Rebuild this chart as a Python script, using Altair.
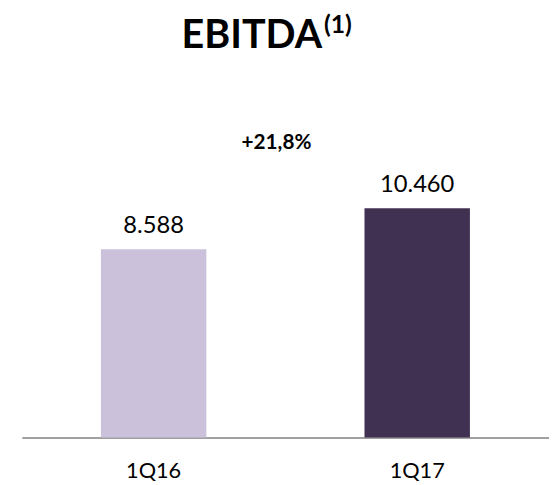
import altair as alt
import pandas as pd

quarters = ["1Q16", "1Q17"]
values = [8588, 10460]
value_labels = ["8.588", "10.460"]
colors = ["#CBC1DB", "#403152"]
title_main = "EBITDA"
title_sup = "(1)"
growth_label = "+21,8%"

FONT = "Lato"

df = pd.DataFrame({"q": quarters, "v": values, "lab": value_labels})

x = alt.X("q:N", sort=quarters, title=None,
          scale=alt.Scale(paddingInner=0.6, paddingOuter=0.3),
          axis=alt.Axis(labelAngle=0, ticks=False, tickSize=0, labelPadding=41,
                        labelBaseline="alphabetic", labelFontSize=22, labelFont=FONT,
                        labelColor="#000000", domainColor="#A0A0A0", domainWidth=2,
                        grid=False))
y = alt.Y("v:Q", title=None, scale=alt.Scale(domain=[0, 14000], nice=False), axis=None)

bars = alt.Chart(df).mark_bar().encode(
    x=x, y=y,
    color=alt.Color("q:N", scale=alt.Scale(domain=quarters, range=colors), legend=None),
)

labels = alt.Chart(df).mark_text(dy=-16, baseline="alphabetic", fontSize=24, font=FONT,
                                 color="#000000").encode(x=x, y=y, text="lab:N")

ann = pd.DataFrame({"t": [growth_label]})
growth = alt.Chart(ann).mark_text(fontSize=21, fontWeight="bold", font=FONT, baseline="alphabetic",
                                  align="center", color="#000000").encode(
    x=alt.value(258), y=alt.value(19), text="t:N")

tdf = pd.DataFrame({"t": [title_main]})
title1 = alt.Chart(tdf).mark_text(fontSize=40, fontWeight="bold", font=FONT, baseline="alphabetic",
                                  align="center", color="#000000").encode(
    x=alt.value(233), y=alt.value(-84), text="t:N")
sdf = pd.DataFrame({"t": [title_sup]})
title2 = alt.Chart(sdf).mark_text(fontSize=25, fontWeight="bold", font=FONT, baseline="alphabetic",
                                  align="left", color="#000000").encode(
    x=alt.value(306), y=alt.value(-99), text="t:N")

chart = alt.layer(bars, labels, growth, title1, title2).properties(
    width=534, height=311,
    background="#FFFFFF",
    autosize=alt.AutoSizeParams(type="none"),
    padding={"left": 14, "top": 121, "right": 0, "bottom": 44},
).configure_view(stroke=None, strokeWidth=0)

chart.save("out.html", embed_options={"renderer": "svg", "actions": False})
